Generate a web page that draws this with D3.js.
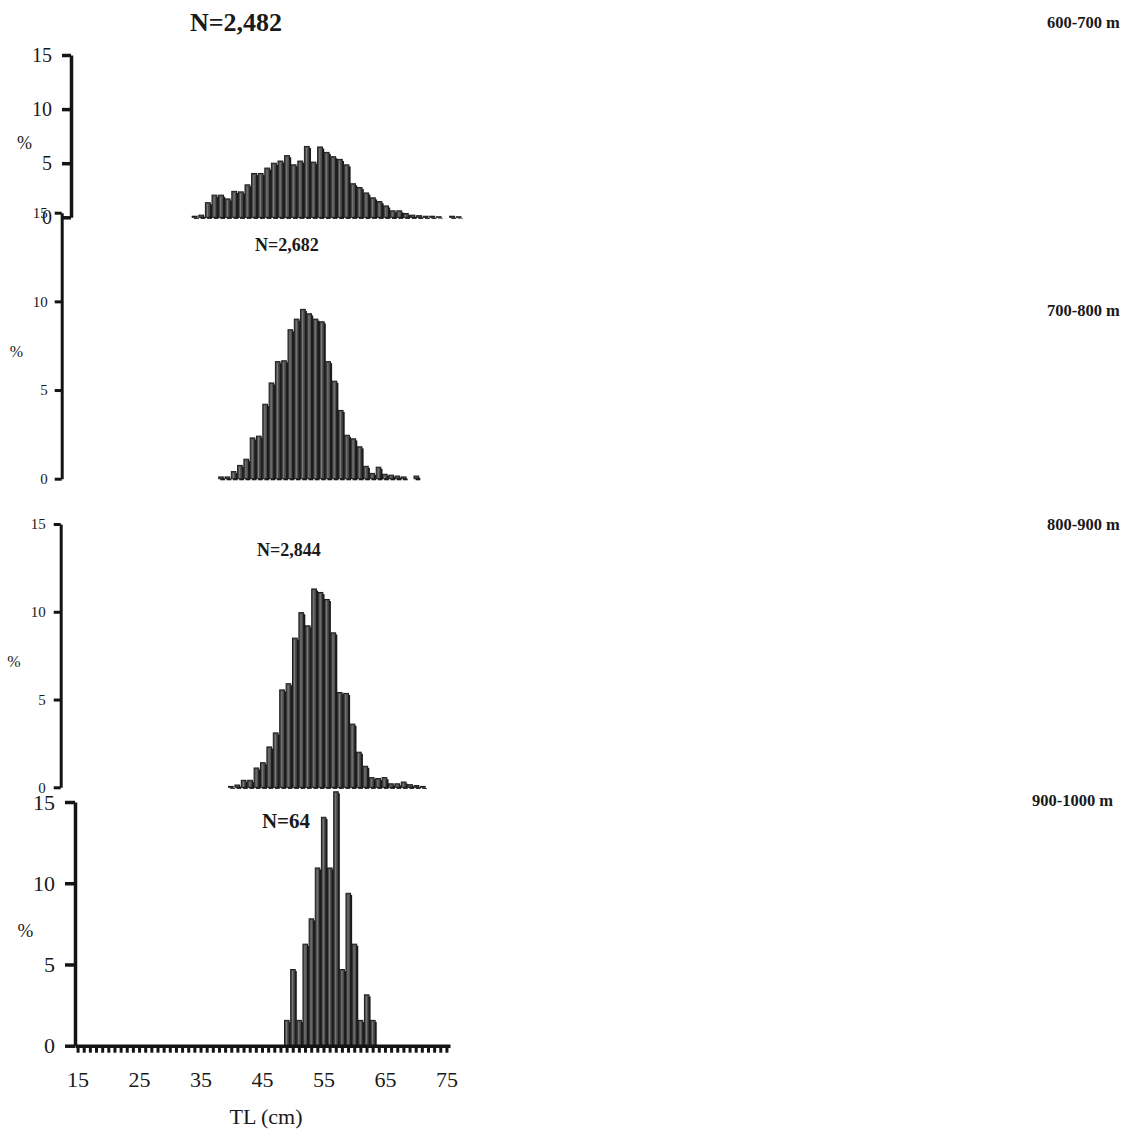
<!DOCTYPE html>
<html>
<head>
<meta charset="utf-8">
<script src="https://cdn.jsdelivr.net/npm/d3@7"></script>
<style>
  html, body { margin: 0; padding: 0; background: #fff; }
  svg { display: block; }
  text { font-family: "Liberation Serif", "Times New Roman", serif; fill: #1a1a1a; }
</style>
</head>
<body>
<svg id="chart" width="1135" height="1131"></svg>
<script>
// ---------------- DATA ----------------
const lengthCategories = [15,16,17,18,19,20,21,22,23,24,25,26,27,28,29,30,31,32,33,34,35,36,37,38,39,40,
  41,42,43,44,45,46,47,48,49,50,51,52,53,54,55,56,57,58,59,60,61,62,63,64,65,66,67,68,69,70,71,72,73,74,75];
const xTickLabels = [15,25,35,45,55,65,75];
const yTickValues = [0,5,10,15];
const depthLabels = ["600-700 m","700-800 m","800-900 m","900-1000 m"];
const sampleSizes = ["N=2,482","N=2,682","N=2,844","N=64"];
const firstBin = [33, 39, 41, 49];

// % frequency per 1-cm TL class, starting at firstBin
const pct600 = [0.1,0.2,1.35,2.05,2.05,1.7,2.4,2.35,3.0,4.05,4.05,4.55,5.0,5.2,5.7,4.85,5.2,6.55,5.1,6.5,
  6.0,5.6,5.35,4.85,3.1,2.75,2.25,1.8,1.45,1.05,0.6,0.6,0.35,0.2,0.15,0.1,0.1,0.05,0,0.1,0.05];
const pct700 = [0.1,0.1,0.4,0.75,1.1,2.3,2.4,4.2,5.4,6.6,6.65,8.4,9.0,9.55,9.3,9.0,8.85,6.6,5.5,3.85,
  2.45,2.25,1.8,0.7,0.3,0.65,0.25,0.2,0.15,0.1,0,0.15];
const pct800 = [0.05,0.13,0.4,0.4,1.1,1.4,2.3,3.1,5.55,5.9,8.5,9.95,9.2,11.3,11.1,10.7,8.8,5.4,5.35,3.6,
  2.0,1.2,0.55,0.5,0.55,0.2,0.2,0.3,0.15,0.1,0.05];
const pct900 = [1.56,4.69,1.56,6.25,7.81,10.94,14.06,10.94,15.63,4.69,9.38,6.25,1.56,3.13,1.56];

const series = [pct600, pct700, pct800, pct900];

// ---------------- LAYOUT ----------------
const layout = [
  {x0:72.9, step:6.6,     base:217.3,  top:55,    axisX:71,   axisW:3.5, tickLen:9,  tickPad:10, tickFont:20,
   pctX:24.5, pctY:143, pctFont:18, nX:236, nY:22,  nFont:26, depthX:1047, depthY:22},
  {x0:67,   step:6.3,     base:478.7,  top:212.7, axisX:61.7, axisW:3,   tickLen:7,  tickPad:7,  tickFont:15,
   pctX:16.5, pctY:351, pctFont:16, nX:287, nY:245, nFont:18, depthX:1047, depthY:310},
  {x0:61.6, step:6.4,     base:787.3,  top:524,   axisX:60.7, axisW:3,   tickLen:7,  tickPad:8,  tickFont:15,
   pctX:14,   pctY:661, pctFont:16, nX:289, nY:550, nFont:18, depthX:1047, depthY:524},
  {x0:75,   step:375/61,  base:1045.7, top:802,   axisX:75,   axisW:3.5, tickLen:10, tickPad:10, tickFont:22,
   pctX:25.5, pctY:930, pctFont:19, nX:286, nY:821, nFont:21, depthX:1032, depthY:800}
];

const svg = d3.select("#chart");
svg.append("rect").attr("width",1135).attr("height",1131).attr("fill","#fff");

layout.forEach((L, p) => {
  const g = svg.append("g");
  const x = d3.scaleBand().domain(lengthCategories)
    .range([L.x0, L.x0 + L.step * lengthCategories.length]).paddingInner(0).paddingOuter(0);
  const y = d3.scaleLinear().domain([0,15]).range([L.base, L.top]);
  const start = lengthCategories.indexOf(firstBin[p]);
  const data = series[p].map((v,i) => ({len: lengthCategories[start+i], v}))
    .filter(d => d.v > 0);
  const w = x.bandwidth();
  const fw = w * 0.74;

  // shadows
  g.append("g").selectAll("rect").data(data).join("rect")
    .attr("x", d => x(d.len) + w*0.34)
    .attr("y", d => y(d.v) + 1.6)
    .attr("width", fw)
    .attr("height", d => y(0) - y(d.v))
    .attr("fill", "#1c1c1c");
  // front faces
  g.append("g").selectAll("rect").data(data).join("rect")
    .attr("x", d => x(d.len) + 0.5)
    .attr("y", d => y(d.v))
    .attr("width", fw)
    .attr("height", d => y(0) - y(d.v))
    .attr("fill", "#4e4e4e")
    .attr("stroke", "#1c1c1c")
    .attr("stroke-width", 1);
  // highlight stripe
  g.append("g").selectAll("rect").data(data.filter(d => y(0) - y(d.v) > 3)).join("rect")
    .attr("x", d => x(d.len) + w*0.32)
    .attr("y", d => y(d.v) + 1.5)
    .attr("width", w*0.16)
    .attr("height", d => y(0) - y(d.v) - 2)
    .attr("fill", "#7d7d7d");

  // y axis
  const ya = g.append("g").attr("transform", `translate(${L.axisX},0)`)
    .call(d3.axisLeft(y).tickValues(yTickValues).tickSize(L.tickLen).tickSizeOuter(0).tickPadding(L.tickPad).tickFormat(d3.format("d")));
  ya.select(".domain").attr("stroke","#141414").attr("stroke-width",L.axisW);
  ya.selectAll(".tick line").attr("stroke","#141414").attr("stroke-width",L.axisW);
  ya.selectAll(".tick text").attr("font-size",L.tickFont)
    .style("font-family",'"Liberation Serif","Times New Roman",serif').attr("fill","#1a1a1a");

  // bottom x axis only on last panel
  if (p === layout.length - 1) {
    const xa = g.append("g").attr("transform", `translate(0,${L.base})`)
      .call(d3.axisBottom(x).tickValues(lengthCategories).tickSize(7).tickSizeOuter(0).tickPadding(19)
        .tickFormat(d => xTickLabels.includes(d) ? d : ""));
    xa.select(".domain").attr("stroke","#141414").attr("stroke-width",3.5);
    xa.selectAll(".tick line").attr("stroke","#141414").attr("stroke-width",3);
    xa.selectAll(".tick text").attr("font-size",22)
      .style("font-family",'"Liberation Serif","Times New Roman",serif').attr("fill","#1a1a1a");
    g.append("text").attr("x", 266).attr("y", 1116).attr("text-anchor","middle")
      .attr("dominant-baseline","central").attr("font-size",22).text("TL (cm)");
  }

  // % label
  g.append("text").attr("x", L.pctX).attr("y", L.pctY).attr("text-anchor","middle")
    .attr("dominant-baseline","central").attr("font-size", L.pctFont).text("%");
  // N label
  g.append("text").attr("x", L.nX).attr("y", L.nY).attr("text-anchor","middle")
    .attr("dominant-baseline","central").attr("font-size", L.nFont).attr("font-weight","bold")
    .text(sampleSizes[p]);
  // depth label
  g.append("text").attr("x", L.depthX).attr("y", L.depthY).attr("text-anchor","start")
    .attr("dominant-baseline","central").attr("font-size", 16.5).attr("font-weight","bold")
    .text(depthLabels[p]);
});
</script>
</body>
</html>
